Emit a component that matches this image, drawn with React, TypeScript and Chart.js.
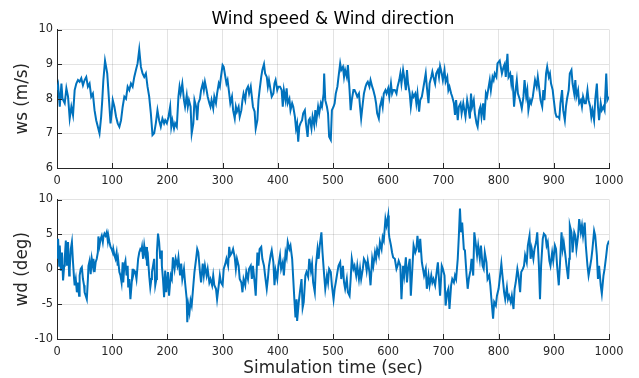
import React, { useEffect, useRef } from "react";
import { Chart, registerables } from "chart.js";

Chart.register(...registerables);

// ---------- data ----------
const xTicks = [0, 100, 200, 300, 400, 500, 600, 700, 800, 900, 1000];
const wsTicks = [6, 7, 8, 9, 10];
const wdTicks = [-10, -5, 0, 5, 10];

const wsTime = [
  0, 2, 5, 8, 10, 14, 17, 20, 23, 26,
  29, 32, 35, 38, 41, 44, 47, 50, 53, 56,
  59, 62, 65, 68, 71, 74, 77, 80, 82, 84,
  87, 89, 91, 93, 95, 97, 99, 101, 104, 107,
  110, 113, 116, 119, 122, 125, 128, 131, 134, 137,
  140, 143, 146, 149, 152, 155, 158, 161, 164, 167,
  170, 173, 176, 179, 182, 185, 188, 191, 194,
  196, 199, 202, 205, 207, 209, 212, 214, 217, 220,
  222, 224, 227, 230, 232, 235, 237, 239, 242, 244,
  247, 249, 252, 254, 256, 259, 261, 264, 266, 268,
  271, 273, 276, 278, 280, 283, 285, 288, 290, 293,
  295, 297, 300, 302, 305, 307, 309, 312, 314, 317,
  319, 322, 324, 326, 329, 331, 334, 336, 338, 341,
  343, 346, 348, 351, 353, 355, 358, 360, 363, 365,
  367, 370, 372, 375, 377, 380, 382, 384, 387, 389,
  392, 394, 396, 399, 401,
  404, 407, 409, 411, 414, 416, 418, 421, 423, 426,
  428, 431, 433, 435, 437, 439, 441, 444, 446, 449,
  451, 454, 456, 458, 461, 463, 466, 468, 470, 473,
  475, 478, 480, 483, 484, 486, 489, 491, 493, 496,
  498, 501, 503, 505, 508, 510, 513, 515, 518, 520,
  522, 525, 527, 530, 532, 534, 537, 539, 542, 544,
  547, 549, 551, 554, 556, 559, 561, 563, 566, 568,
  571, 573, 576, 578, 580, 583, 585, 588, 590, 592,
  595, 597, 600, 602, 605, 607, 609,
  612, 615, 617, 620, 622, 624, 627, 629, 632, 634,
  636, 639, 641, 644, 646, 649, 651, 653, 656, 658,
  661, 663, 665, 668, 670, 673, 675, 678, 680, 682,
  685, 687, 690, 692, 694, 697, 699, 702, 704, 707,
  709, 711, 714, 716, 719, 721, 723, 726, 728, 731,
  733, 736, 738, 740, 743, 745, 748, 750, 752, 755,
  757, 760, 762, 765, 767, 769, 772, 774, 777, 779,
  781, 784, 786, 789, 791, 793, 796, 798,
  802, 806, 809, 811, 813, 816, 818, 821, 823, 825,
  828, 830, 833, 835, 838, 840, 842, 845, 847, 850,
  852, 854, 857, 859, 862, 864, 866, 869, 871, 874,
  876, 879, 881, 883, 886, 888, 891, 893, 895, 898,
  900, 903, 905, 908, 910, 912, 915, 917, 920, 922,
  924, 927, 929, 932, 934, 937, 939, 941, 944, 946,
  949, 951, 953, 956, 958, 961, 963, 966, 968, 970,
  973, 975, 978, 980, 982, 985, 987, 990, 992, 995,
  997, 1000,
];

const wsValue = [
  8.25, 8.39, 7.77, 8.44, 8.0, 7.87, 8.3, 8.06, 7.43, 7.77,
  7.53, 8.25, 8.44, 8.54, 8.49, 8.59, 8.39, 8.54, 8.63, 8.35,
  8.44, 8.06, 8.15, 7.67, 7.38, 7.19, 7.0, 7.48, 7.96, 8.54,
  9.1, 8.92, 8.73, 8.25, 7.77, 7.29, 7.58, 7.96, 7.77, 7.48,
  7.29, 7.19, 7.38, 7.77, 8.06, 8.0, 8.35, 8.25, 8.44, 8.35,
  8.63, 8.83, 9.02, 9.42, 8.92, 8.73, 8.63, 8.73, 8.35, 8.06,
  7.58, 6.95, 7.0, 7.29, 7.67, 7.38, 7.19, 7.43, 7.29,
  7.38, 7.29, 7.48, 7.77, 7.19, 7.38, 7.14, 7.29, 7.19, 8.06,
  8.35, 8.15, 8.44, 7.96, 7.77, 8.1, 7.77, 7.96, 7.77, 7.0,
  7.29, 7.96, 7.77, 7.38, 7.87, 8.0, 8.25, 8.44, 8.25, 8.49,
  8.25, 8.06, 7.87, 7.77, 7.96, 7.72, 8.06, 7.87, 8.15, 8.44,
  8.35, 8.63, 8.97, 8.92, 8.63, 8.44, 8.54, 8.15, 7.87, 8.06,
  7.67, 7.43, 7.77, 7.63, 7.77, 7.48, 7.67, 7.96, 8.15, 7.96,
  8.25, 8.35, 8.15, 8.35, 8.06, 7.77, 7.63, 7.14, 7.38, 7.96,
  8.25, 8.63, 8.83, 9.0, 8.73, 8.63, 8.35, 8.54, 8.25, 8.06,
  8.15, 8.44, 8.54, 8.25, 8.35,
  8.35, 8.25, 7.77, 8.25, 7.96, 8.3, 7.87, 8.0, 7.67, 7.87,
  7.77, 7.48, 7.14, 7.29, 6.76, 7.19, 7.29, 7.38, 7.58, 7.67,
  7.29, 6.9, 7.38, 7.43, 7.14, 7.48, 7.24, 7.67, 7.38, 7.77,
  7.58, 7.87, 7.77, 8.15, 8.73, 7.96, 7.77, 7.58, 6.9, 6.81,
  7.67, 7.77, 7.87, 8.15, 8.35, 8.63, 9.02, 8.83, 8.92, 8.63,
  8.83, 8.63, 8.97, 8.25, 7.67, 7.96, 8.25, 8.25, 8.15, 8.06,
  8.15, 7.77, 7.43, 7.87, 8.15, 8.35, 8.44, 8.49, 8.35, 8.54,
  8.35, 8.25, 8.06, 7.87, 7.58, 7.43, 7.77, 7.96, 7.77, 8.15,
  8.25, 8.15, 8.3, 8.06, 8.44, 8.15, 8.25,
  8.25, 8.15, 8.35, 8.54, 8.73, 8.44, 8.83, 8.63, 8.25, 8.83,
  8.44, 8.15, 7.77, 8.15, 8.06, 8.15, 7.87, 8.15, 7.63, 7.96,
  8.06, 8.25, 8.44, 8.73, 8.35, 7.87, 8.44, 8.63, 8.78, 8.63,
  8.44, 8.73, 8.83, 8.63, 8.94, 8.73, 8.54, 8.83, 8.49, 8.63,
  8.25, 8.35, 8.15, 8.06, 7.87, 7.53, 7.96, 7.38, 7.77, 7.87,
  7.58, 7.87, 7.67, 7.48, 7.96, 7.77, 7.43, 8.15, 7.77, 7.96,
  7.58, 7.29, 7.19, 7.67, 7.77, 7.48, 7.87, 7.38, 8.15, 8.06,
  8.25, 8.54, 8.25, 8.63, 8.54, 8.73, 8.63, 9.02,
  9.1, 8.73, 8.92, 9.0, 8.63, 9.3, 8.63, 8.73, 8.44, 8.68,
  7.77, 8.15, 8.54, 8.15, 8.0, 7.87, 7.72, 8.06, 8.54, 8.06,
  8.25, 7.67, 7.96, 7.87, 8.06, 8.3, 8.54, 8.35, 8.63, 8.25,
  7.96, 7.77, 8.25, 7.96, 8.73, 8.92, 8.63, 8.73, 8.44, 8.25,
  7.96, 7.58, 7.48, 7.48, 7.43, 7.87, 8.25, 7.67, 7.38, 7.77,
  8.0, 8.25, 8.73, 8.83, 8.44, 8.15, 8.54, 8.06, 8.25, 7.87,
  7.96, 7.77, 8.06, 7.87, 7.87, 8.25, 7.96, 7.77, 7.48, 7.67,
  7.38, 7.96, 8.44, 7.77, 7.38, 7.87, 7.67, 7.77, 7.67, 8.73,
  7.96, 8.06,
];

const wdTime = [
  0, 2, 4, 5, 7, 9, 11, 13, 14, 16,
  18, 20, 22, 23, 25, 27, 29, 31, 32, 34,
  36, 38, 40, 41, 43, 45, 47, 49, 50, 52,
  54, 56, 57, 59, 61, 63, 65, 66, 68, 70,
  72, 74, 75, 77, 79, 81, 83, 84, 86, 88,
  90, 92, 93, 95, 97, 99, 101, 102, 104, 106,
  108, 110, 111, 113, 115, 117, 119, 120, 122, 124,
  126, 128, 129, 131, 133, 135, 137, 138, 140, 142,
  144, 146, 147, 149, 151, 153, 154, 156, 158, 160,
  162, 163, 165, 167, 169, 171, 172, 174, 176, 178,
  180, 181, 183, 185, 187, 189, 190, 192, 194,
  196, 198, 201, 203, 206, 208, 210, 213, 215, 218,
  220, 223, 225, 227, 230, 232, 235, 236, 238, 240,
  242, 244, 247, 249, 252, 254, 256, 259, 261, 264,
  266, 268, 271, 273, 276, 278, 281, 283, 285, 288,
  290, 293, 295, 297, 300, 302, 305, 307, 310, 312,
  314, 317, 319, 322, 324, 326, 329, 331, 334, 336,
  338, 341, 343, 346, 348, 351, 353, 355, 358, 360,
  363, 365, 367, 370, 372, 375, 377, 380, 382, 384,
  387, 389, 392, 394, 396, 399, 401,
  404, 406, 409, 411, 414, 416, 418, 421, 423, 426,
  428, 430, 432, 434, 435, 438, 440, 443, 445, 447,
  450, 452, 455, 457, 460, 462, 464, 467, 469, 472,
  474, 476, 479, 481, 484, 486, 489, 491, 493, 496,
  498, 501, 503, 505, 508, 510, 513, 515, 518, 520,
  522, 525, 527, 530, 532, 534, 537, 539, 542, 544,
  547, 549, 551, 554, 556, 559, 561, 563, 566, 568,
  571, 573, 576, 578, 580, 583, 585, 588, 590, 592,
  595, 597, 600, 601, 602, 605, 607, 609,
  612, 615, 617, 619, 622, 624, 627, 629, 632, 634,
  636, 639, 641, 644, 646, 649, 651, 653, 656, 658,
  661, 663, 665, 668, 670, 673, 675, 678, 680, 682,
  685, 687, 690, 692, 694, 697, 699, 702, 704, 707,
  709, 711, 714, 716, 719, 721, 723, 726, 728, 730,
  732, 734, 737, 739, 742, 744, 746, 749, 751, 754,
  756, 759, 761, 763, 766, 768, 771, 773, 775, 778,
  780, 783, 785, 787, 790, 792, 795, 797, 800,
  802, 805, 807, 810, 812, 815, 817, 819, 822, 824,
  827, 829, 831, 834, 836, 839, 841, 844, 846, 848,
  851, 853, 856, 858, 860, 863, 865, 868, 870, 873,
  875, 877, 880, 882, 885, 887, 889, 892, 894, 897,
  899, 902, 904, 906, 909, 911, 914, 916, 918, 921,
  923, 926, 928, 929, 932, 934, 937, 939, 941, 944,
  946, 949, 951, 953, 956, 958, 961, 963, 966, 968,
  970, 973, 975, 978, 980, 982, 985, 987, 990, 992,
  995, 997, 1000,
];

const wdValue = [
  1.5, 4.35, 0.5, 3.4, -0.2, 2.4, -1.6, 0.5, 1.5, 4.1,
  0.5, 3.9, -0.9, 0.05, 2.9, 3.9, 1.0, -1.4, -2.3, -1.4,
  -3.3, -1.9, -3.8, -0.9, 0.05, 0.3, -1.4, -2.3, -3.3, -3.8,
  -4.3, -1.4, 0.5, 1.2, -0.7, 1.5, 0.5, 1.5, -0.4, 1.0,
  1.5, 2.4, 4.7, 3.4, 4.35, 4.8, 3.9, 4.6, 5.1, 4.8,
  5.3, 4.1, 4.8, 3.9, 3.2, 2.9, 2.4, 2.9, 2.0, 1.5,
  2.4, 0.5, 1.2, -0.4, -0.9, -1.9, 1.0, -1.9, 0.5, 1.2,
  -0.9, 0.5, -2.6, -1.4, -4.3, -2.3, 0.05, -0.9, -0.2, -0.4,
  -1.4, 0.5, 1.5, 2.4, 2.9, 2.7, 3.2, 1.5, 3.4, 2.2,
  3.2, 0.5, 1.5, -0.9, -2.6, -1.4, -0.4, 0.5, 1.5, -2.3,
  -1.4, 2.4, 5.1, 3.9, 1.5, 2.7, 0.5, -1.4, -4.0,
  -0.2, -3.3, -0.4, -3.8, -0.9, -1.4, 1.7, 0.05, 1.5, 0.5,
  1.7, -0.9, 0.8, -1.4, 0.05, -1.9, -4.3, -7.6, -5.2, -6.2,
  -4.5, -5.2, -2.3, -0.4, 1.5, 2.9, 2.4, -0.4, -1.9, 0.8,
  -0.9, 0.5, -0.9, 0.05, -1.9, -1.4, -2.3, -0.9, -2.3, -2.8,
  -4.3, -2.3, -0.9, -1.9, -2.3, 0.05, 0.8, 1.5, 0.5, 3.2,
  2.0, 2.4, 2.9, 1.7, 0.05, 1.5, 0.5, -1.4, -1.9, -3.3,
  -1.4, -2.3, -0.4, -1.4, 0.05, 0.5, -1.4, 0.5, -1.9, -3.8,
  2.4, 0.5, 2.9, 3.2, 1.5, 0.5, -0.9, -2.8, -1.4, 0.5,
  2.0, 2.7, 1.0, -2.3, -0.2, -1.4, 0.5,
  2.0, 0.05, 1.0, -0.9, 2.4, 1.7, 3.9, 2.9, 3.4, 1.5,
  -1.4, -4.3, -6.9, -4.3, -7.4, -4.7, -3.3, -1.4, -5.5, -4.7,
  -0.9, -0.4, -1.1, 1.5, -0.2, 0.8, -1.9, -3.3, 0.5, 2.9,
  1.5, 3.4, 5.3, 2.4, -0.9, -2.8, -0.9, -1.9, 0.05, -0.4,
  -2.3, -4.3, -2.8, -1.9, -0.4, 0.5, 1.0, -1.4, 0.5, -1.9,
  -2.8, -1.4, -3.3, -3.8, -1.4, 1.5, 0.05, 0.5, -0.9, 0.5,
  -1.4, 0.05, -1.4, 0.05, 1.5, 1.0, -0.2, 1.2, -0.4, -2.3,
  1.5, 0.5, 2.4, 1.5, 2.9, 2.0, 3.9, 2.9, 4.6, 4.1,
  7.2, 6.3, 7.7, 5.3, 4.6, 3.4, 2.4, 1.7,
  1.5, 0.05, 0.5, 1.2, 0.5, -4.3, 0.5, -0.9, 1.7, -1.9,
  0.05, 1.5, -3.8, 0.5, 3.4, 2.4, 2.9, 4.8, 2.4, 4.35,
  1.0, 0.05, -0.9, 0.05, -2.8, -0.9, -2.3, -0.9, -1.9, -1.4,
  -2.3, -0.9, 1.0, -1.4, -3.8, 0.5, 0.05, -0.9, -5.2, -3.3,
  -2.8, -5.7, -2.3, -1.4, -1.9, -0.9, -1.4, 1.5, 4.8, 8.7,
  5.3, 6.7, 2.9, 2.7, -0.9, -2.8, -1.4, -0.2, 1.5, -0.9,
  5.3, 3.4, 2.0, 3.4, 1.5, 3.4, 0.5, 0.05, 2.4, 1.0,
  -1.4, -0.9, -2.3, -4.3, -7.1, -4.7, -5.2, -3.8, -2.8,
  -1.4, 0.8, -0.9, -3.3, -4.3, -2.6, -4.3, -3.8, -4.7, -3.8,
  -5.7, -2.8, -1.9, 0.05, -0.9, -3.3, -0.4, 0.05, 0.5, 2.0,
  1.0, 3.4, 4.8, 1.5, 2.9, 1.5, 2.9, 3.9, 5.3, 0.5,
  -4.3, 0.5, 4.35, 5.1, 4.8, 3.4, 3.9, 1.2, 0.5, 2.4,
  1.2, 3.4, 2.9, 0.5, -2.3, 0.5, 5.3, 2.9, 3.9, 2.0,
  0.5, -1.4, 1.5, 6.3, 5.3, 2.4, 5.3, 4.8, 2.9, 4.8,
  7.2, 5.3, 6.3, 4.8, 6.7, 3.4, 0.5, -0.9, 0.5, 1.5,
  2.9, 5.5, 4.8, 2.0, -1.4, 0.5, -2.3, -3.5, -0.9, 0.05,
  2.0, 3.4, 4.1,
];

const chartTitle = "Wind speed & Wind direction";
const wsLabel = "ws (m/s)";
const wdLabel = "wd (deg)";
const xLabel = "Simulation time (sec)";

// ---------- styling ----------
const W = 639;
const H = 378;
const AXIS = "#262626";
const GRID = "rgba(38,38,38,0.13)";
const LINE = "#0072BD";
const FONT = "'DejaVu Sans', sans-serif";
const TICK_SIZE = 11.4;
const LABEL_SIZE = 16.8;

const decor = {
  id: "decor",
  afterDraw(chart: any, _args: any, opts: any) {
    const ctx = chart.ctx;
    const a = chart.chartArea;
    const xs = chart.scales.x;
    const ys = chart.scales.y;
    ctx.save();
    ctx.strokeStyle = AXIS;
    ctx.lineWidth = 1;
    ctx.beginPath();
    for (const t of xTicks) {
      const px = Math.round(xs.getPixelForValue(t)) + 0.5;
      ctx.moveTo(px, a.bottom);
      ctx.lineTo(px, a.bottom - 5);
    }
    for (const v of opts.yTicks || []) {
      const py = Math.round(ys.getPixelForValue(v)) + 0.5;
      ctx.moveTo(a.left, py);
      ctx.lineTo(a.left + 5, py);
    }
    ctx.stroke();
    if (opts.title) {
      ctx.fillStyle = "#000000";
      ctx.font = `${LABEL_SIZE}px ${FONT}`;
      ctx.textAlign = "center";
      ctx.textBaseline = "alphabetic";
      ctx.fillText(opts.title, (a.left + a.right) / 2, opts.titleY);
    }
    ctx.restore();
  },
};

function makeConfig(
  time: number[],
  value: number[],
  yMin: number,
  yMax: number,
  yTicks: number[],
  yLabel: string,
  padTop: number,
  xHeight: number,
  xTitle: string | null,
  title: string | null
): any {
  const n = Math.min(time.length, value.length);
  const pts = [];
  for (let i = 0; i < n; i++) pts.push({ x: time[i], y: value[i] });
  return {
    type: "line",
    data: {
      datasets: [
        {
          data: pts,
          borderColor: LINE,
          borderWidth: 2,
          pointRadius: 0,
          fill: false,
          tension: 0,
        },
      ],
    },
    plugins: [decor],
    options: {
      responsive: false,
      animation: false,
      events: [],
      layout: { padding: { top: padTop, right: 30, left: 0, bottom: 0 } },
      plugins: {
        legend: { display: false },
        tooltip: { enabled: false },
        decor: { yTicks, title, titleY: 24 },
      },
      scales: {
        x: {
          type: "linear",
          min: 0,
          max: 1000,
          afterBuildTicks: (s: any) => {
            s.ticks = xTicks.map((v) => ({ value: v }));
          },
          afterFit: (s: any) => {
            s.height = xHeight;
          },
          ticks: {
            color: AXIS,
            font: { family: FONT, size: TICK_SIZE },
            padding: 6,
            maxRotation: 0,
            autoSkip: false,
            callback: (v: any) => String(v),
          },
          grid: { color: GRID, drawTicks: false, tickLength: 0 },
          border: { color: AXIS, width: 1 },
          title: xTitle
            ? {
                display: true,
                text: xTitle,
                color: AXIS,
                font: { family: FONT, size: LABEL_SIZE },
                padding: { top: 0, bottom: -1 },
              }
            : { display: false },
        },
        y: {
          type: "linear",
          min: yMin,
          max: yMax,
          afterBuildTicks: (s: any) => {
            s.ticks = yTicks.map((v) => ({ value: v }));
          },
          afterFit: (s: any) => {
            s.width = 57;
          },
          ticks: {
            color: AXIS,
            font: { family: FONT, size: TICK_SIZE },
            padding: 4,
            autoSkip: false,
            callback: (v: any) => String(v),
          },
          grid: { color: GRID, drawTicks: false, tickLength: 0 },
          border: { color: AXIS, width: 1 },
          title: {
            display: true,
            text: yLabel,
            color: AXIS,
            font: { family: FONT, size: LABEL_SIZE },
            padding: { top: 13, bottom: 0 },
          },
        },
      },
    },
  };
}

export default function App() {
  const topRef = useRef<HTMLCanvasElement | null>(null);
  const botRef = useRef<HTMLCanvasElement | null>(null);

  useEffect(() => {
    const charts: Chart[] = [];
    if (topRef.current) {
      charts.push(
        new Chart(
          topRef.current,
          makeConfig(wsTime, wsValue, 6, 10, wsTicks, wsLabel, 29.5, H - 168, null, chartTitle)
        )
      );
    }
    if (botRef.current) {
      charts.push(
        new Chart(
          botRef.current,
          makeConfig(wdTime, wdValue, -10, 10, wdTicks, wdLabel, 199.5, H - 339, xLabel, null)
        )
      );
    }
    return () => {
      charts.forEach((c) => c.destroy());
    };
  }, []);

  const canvasStyle: React.CSSProperties = {
    position: "absolute",
    left: 0,
    top: 0,
    width: W,
    height: H,
  };

  return (
    <div
      style={{
        position: "fixed",
        left: 0,
        top: 0,
        width: W,
        height: H,
        background: "#ffffff",
      }}
    >
      <canvas ref={topRef} width={W} height={H} style={canvasStyle} />
      <canvas ref={botRef} width={W} height={H} style={canvasStyle} />
    </div>
  );
}
